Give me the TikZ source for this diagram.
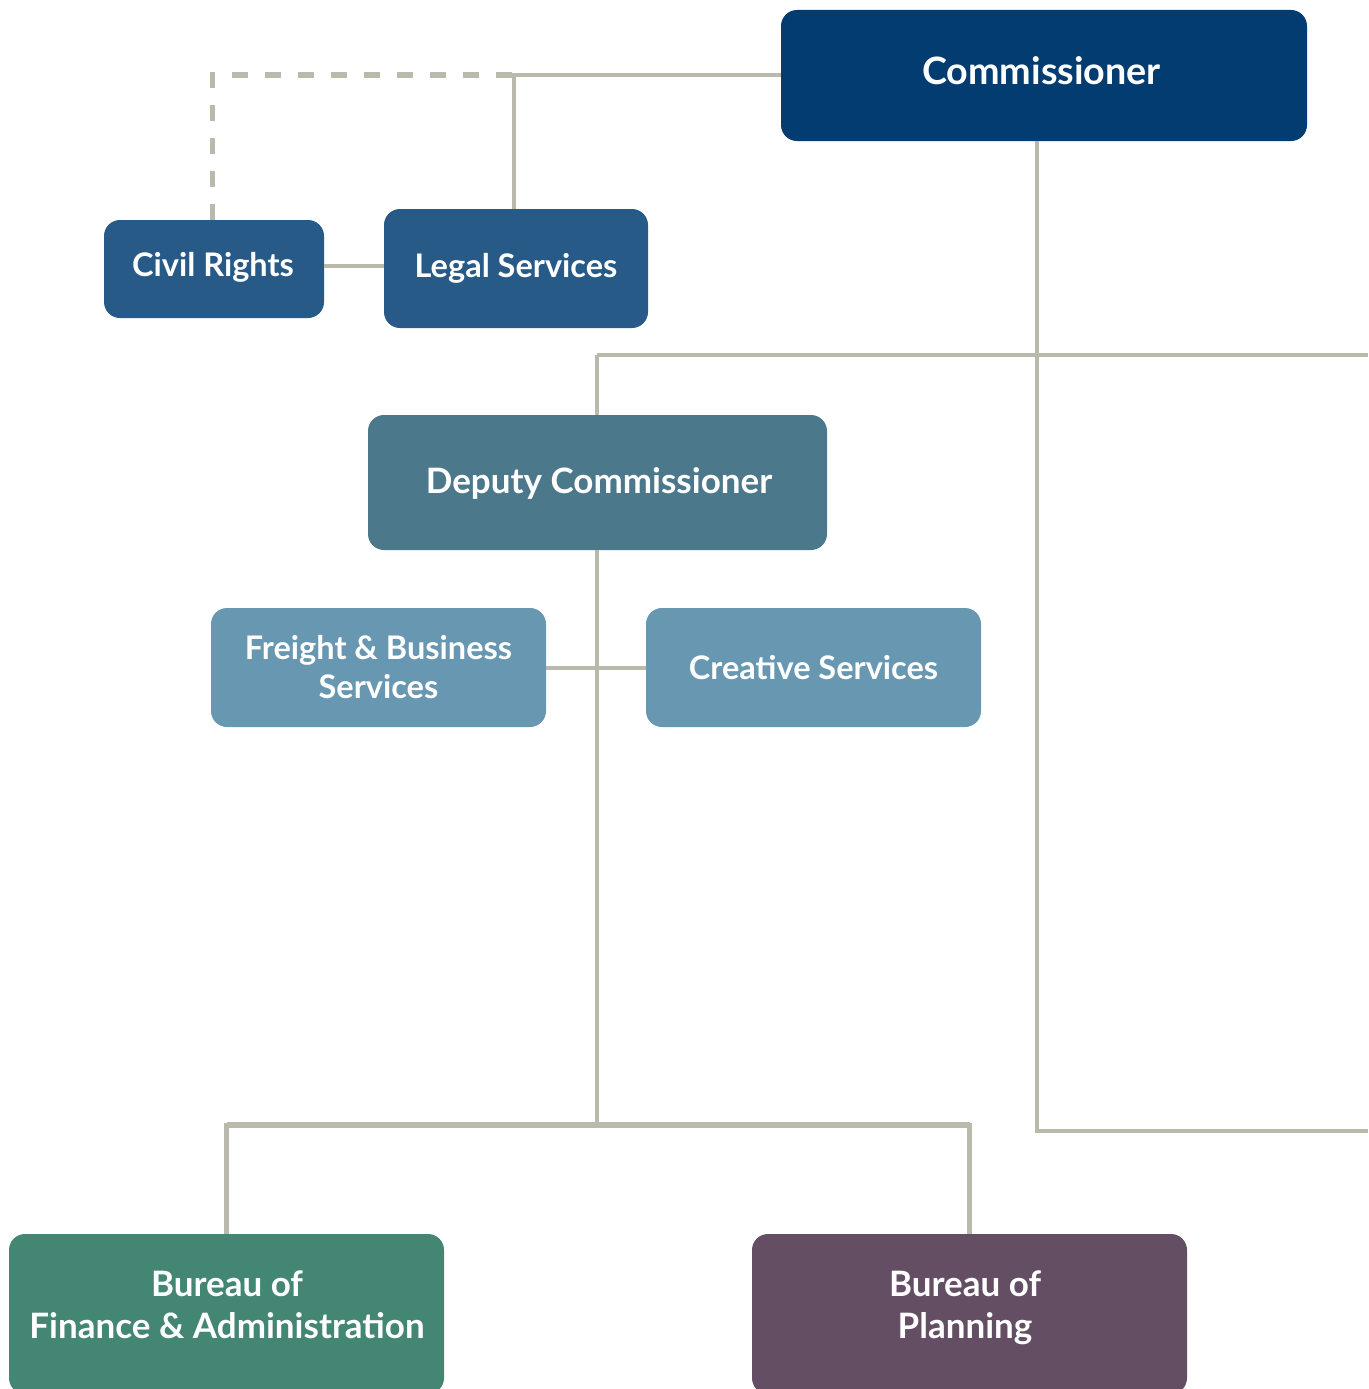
\documentclass[tikz,border=0pt]{standalone}
\usepackage{fontspec}
\setmainfont{Lato}[UprightFont=* Bold]
\definecolor{cLine}{HTML}{B9B9AC}
\definecolor{cComm}{HTML}{033C70}
\definecolor{cLegal}{HTML}{285A87}
\definecolor{cDep}{HTML}{4C788B}
\definecolor{cSvc}{HTML}{6797B1}
\definecolor{cFin}{HTML}{438673}
\definecolor{cPlan}{HTML}{634E63}
\tikzset{
  orgbox/.style={rounded corners=16pt, inner sep=0pt, text=white, align=center},
  lbl/.style={inner sep=0pt, text=white, align=center},
  conn/.style={draw=cLine, line width=4.8pt},
  dconn/.style={draw=cLine, line width=5pt, dash pattern=on 16pt off 17pt},
  ftA/.style={font=\fontsize{32.5}{39}\selectfont},
  ftD/.style={font=\fontsize{35}{42}\selectfont},
  ftB/.style={font=\fontsize{35}{42}\selectfont},
  ftC/.style={font=\fontsize{37.7}{42}\selectfont},
}
\begin{document}
\begin{tikzpicture}[x=1pt,y=-1pt]
\useasboundingbox (0,0) rectangle (1368,1389);
% boxes
\node[orgbox, fill=cComm, minimum width=526pt, minimum height=131pt] (comm) at (1044,75.5) {};
\node[lbl, ftC] (commtxt) at (1041.5,71) {Commissioner};
\node[orgbox, fill=cLegal, minimum width=220pt, minimum height=98pt] (civil) at (214,269) {};
\node[lbl, ftA] (civiltxt) at (213,267) {Civil Rights};
\node[orgbox, fill=cLegal, minimum width=264pt, minimum height=119pt] (legal) at (516,268.5) {};
\node[lbl, ftA] (legaltxt) at (516,268) {Legal Services};
\node[orgbox, fill=cDep, minimum width=459pt, minimum height=135pt] (dep) at (597.5,482.5) {};
\node[lbl, ftD] (deptxt) at (599,483) {Deputy Commissioner};
\node[orgbox, fill=cSvc, ftA, minimum width=335pt, minimum height=119pt] (freight) at (378.5,667.5) {Freight \& Business\\Services};
\node[orgbox, fill=cSvc, ftA, minimum width=335pt, minimum height=119pt] (creative) at (813.5,667.5) {Creative Services};
\node[orgbox, fill=cFin, minimum width=435pt, minimum height=160pt] (fin) at (226.5,1314) {};
\node[orgbox, fill=cPlan, minimum width=435pt, minimum height=160pt] (plan) at (969.5,1314) {};
\node[lbl, ftB] (fintxt) at (227,1305) {Bureau of\\Finance \& Administration};
\node[lbl, ftB] (plantxt) at (965,1308) {Bureau of\\Planning};
% junction coordinates
\coordinate (jTop) at (514,75);
\coordinate (jDash) at (212,75);
\coordinate (jCiv) at (354,266);
\coordinate (jMid) at (1037,355);
\coordinate (jRight) at (1368,355);
\coordinate (jDep) at (597,355);
\coordinate (jLow) at (1037,1131);
\coordinate (jLowR) at (1368,1131);
\coordinate (jBot) at (597,1125);
\coordinate (jSvc) at (597,668);
% connectors
\draw[conn] (comm.west |- jTop) -- (jTop) -- (jTop |- legal.north);
\draw[dconn] (civil.north -| jDash) -- (jDash) -- (jTop);
\draw[conn] (civil.east |- jCiv) -- (legal.west |- jCiv);
\draw[conn] (jDep) -- (jRight);
\draw[conn] (comm.south -| jMid) -- (jLow) -- (jLowR);
\draw[conn] (jDep) -- (dep.north -| jDep);
\draw[conn] (dep.south -| jDep) -- (jBot);
\draw[conn] (freight.east |- jSvc) -- (creative.west |- jSvc);
\draw[conn] (fin.north) -- (fin.north |- jBot) -- (jBot -| plan.north) -- (plan.north);
\draw[conn, line width=5.5pt] (fin.north |- jBot) -- (jBot -| plan.north);
\end{tikzpicture}
\end{document}
